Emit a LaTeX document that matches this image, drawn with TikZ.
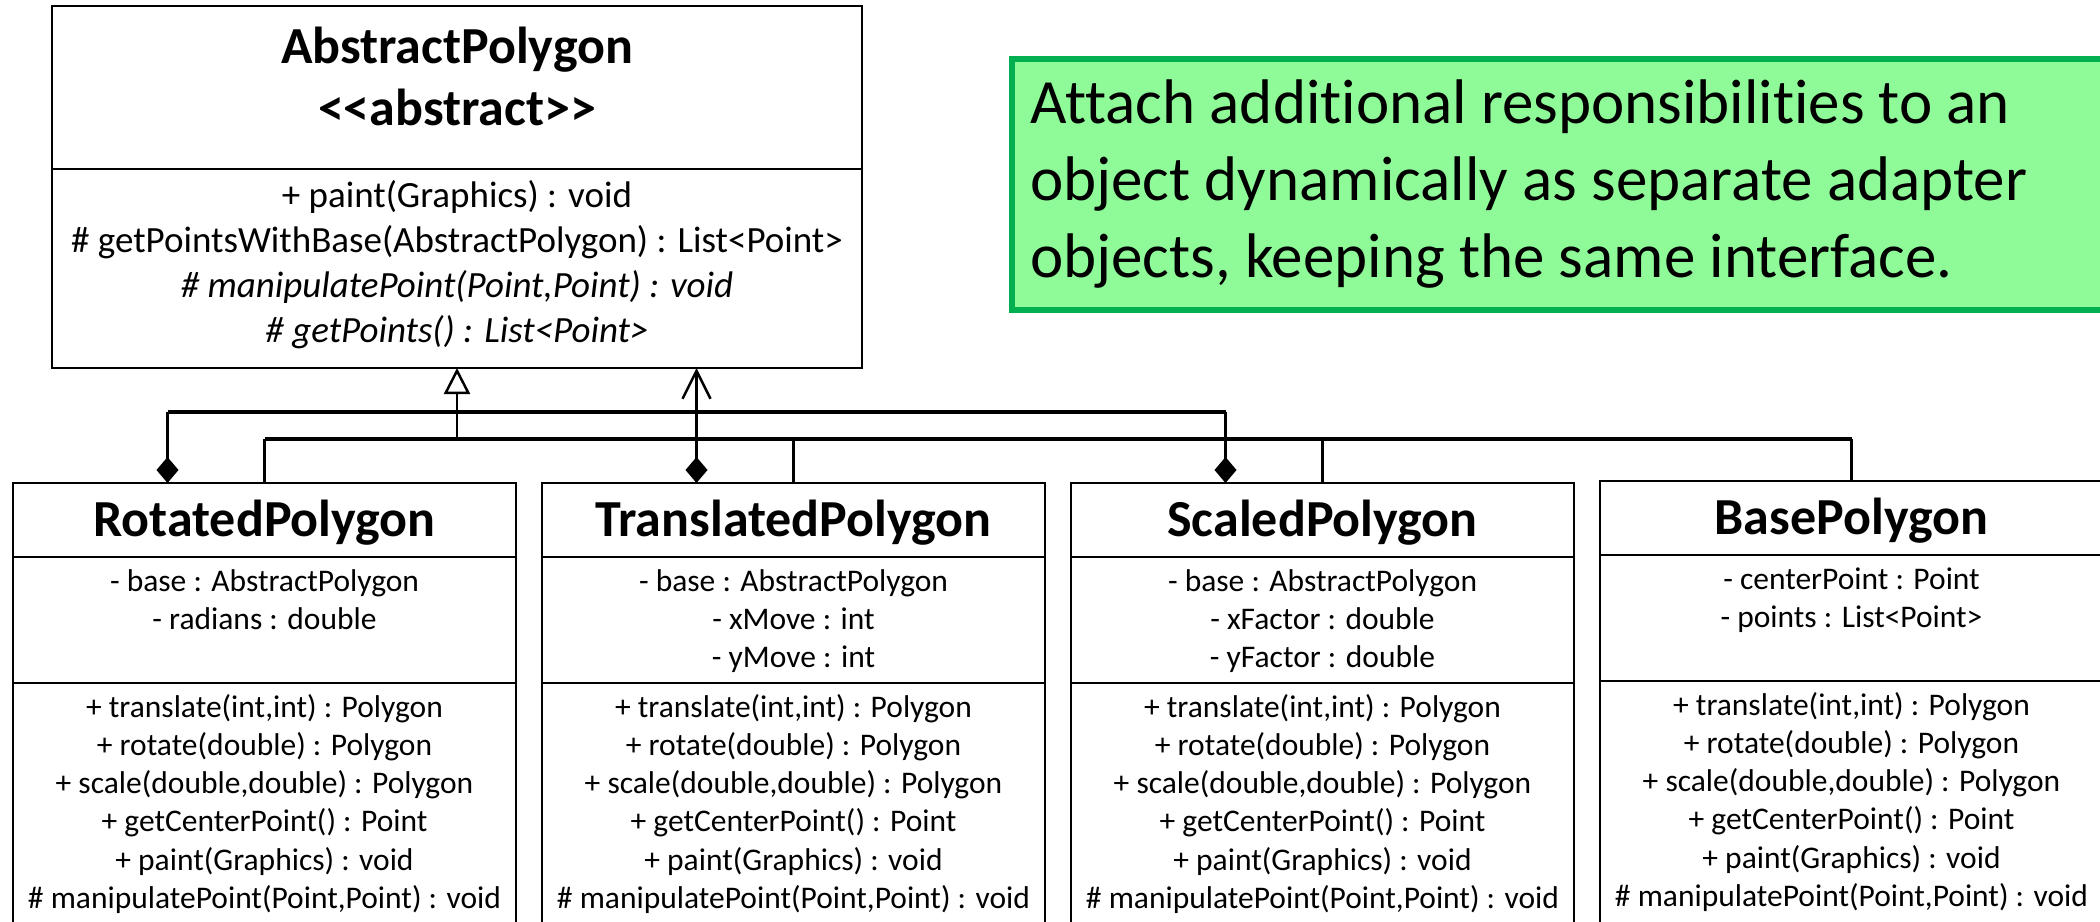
\documentclass[tikz,border=0pt]{standalone}
\usepackage{fontspec}
\setmainfont{Carlito}[Ligatures={TeXOff,NoCommon}]
\usetikzlibrary{positioning,arrows.meta,calc}

\tikzset{
  umlbox/.style={draw=black, line width=2.5pt, inner sep=0pt, outer sep=0pt},
  namebox/.style={umlbox, minimum width=503pt, minimum height=74pt,
    font=\fontsize{52}{63}\selectfont\bfseries, text height=33pt, text depth=0pt},
  attrbox/.style={umlbox, minimum width=503pt, minimum height=126pt},
  opbox/.style={umlbox, minimum width=503pt, minimum height=250pt},
  member/.style={inner sep=0pt, anchor=base, font=\fontsize{31.5}{38}\selectfont},
  absmember/.style={member, font=\fontsize{37}{45}\selectfont},
  absabstract/.style={member, font=\fontsize{37}{45}\selectfont\itshape},
  abstitle/.style={member, font=\fontsize{52}{63}\selectfont\bfseries},
  notetext/.style={inner sep=0pt, anchor=base west, font=\fontsize{63}{77}\selectfont},
  bus/.style={line width=3.5pt},
  link/.style={line width=2.5pt},
  compose/.style={link, -{Diamond[length=26pt, width=22pt]}},
}

\begin{document}
\begin{tikzpicture}[x=1pt, y=-1pt]
  \definecolor{notefill}{RGB}{143,250,152}
  \definecolor{noteline}{RGB}{0,176,80}
  \useasboundingbox (0,0) rectangle (2100,921);
  \clip (0,0) rectangle (2100,921);

  % abstract component
  \node[umlbox, anchor=north west, minimum width=810pt, minimum height=163pt] (abs) at (52,6) {};
  \node[umlbox, below=0pt of abs, minimum width=810pt, minimum height=199pt] (absM) {};
  \node[abstitle] (absT1) at ($(abs.north)+(0,57)$) {AbstractPolygon};
  \node[abstitle] (absT2) at ($(abs.north)+(0,119)$) {<<abstract>>};
  \node[absmember] (absm1) at ($(absM.north)+(0,38)$) {+ paint(Graphics) : void};
  \node[absmember] (absm2) at ($(absM.north)+(0,83)$) {\# getPointsWithBase(AbstractPolygon) : List<Point>};
  \node[absabstract] (absm3) at ($(absM.north)+(0,128)$) {\# manipulatePoint(Point,Point) : void};
  \node[absabstract] (absm4) at ($(absM.north)+(0,173)$) {\# getPoints() : List<Point>};

  % decorators and concrete component
  \node[namebox, anchor=north west] (rot) at (13,483) {RotatedPolygon};
  \node[namebox, right=26pt of rot] (tra) {TranslatedPolygon};
  \node[namebox, right=26pt of tra] (sca) {ScaledPolygon};
  \node[namebox, right=26pt of sca, yshift=2pt] (bas) {BasePolygon};
  \foreach \nm in {rot,tra,sca,bas} {
    \node[attrbox, below=0pt of \nm] (\nm A) {};
    \node[opbox, below=0pt of \nm A] (\nm M) {};
    \foreach \t [count=\i] in {{+ translate(int,int) : Polygon}, {+ rotate(double) : Polygon},
        {+ scale(double,double) : Polygon}, {+ getCenterPoint() : Point},
        {+ paint(Graphics) : void}, {\# manipulatePoint(Point,Point) : void}}
      \node[member] (\nm m\i) at ($(\nm M.north)+(0,{34+38.3*(\i-1)})$) {\t};
  }
  \foreach \t [count=\i] in {- base : AbstractPolygon, - radians : double}
    \node[member] (rota\i) at ($(rotA.north)+(0,{34+38.3*(\i-1)})$) {\t};
  \foreach \t [count=\i] in {- base : AbstractPolygon, - xMove : int, - yMove : int}
    \node[member] (traa\i) at ($(traA.north)+(0,{34+38.3*(\i-1)})$) {\t};
  \foreach \t [count=\i] in {- base : AbstractPolygon, - xFactor : double, - yFactor : double}
    \node[member] (scaa\i) at ($(scaA.north)+(0,{34+38.3*(\i-1)})$) {\t};
  \foreach \t [count=\i] in {- centerPoint : Point, - points : List<Point>}
    \node[member] (basa\i) at ($(basA.north)+(0,{34+38.3*(\i-1)})$) {\t};

  % generalisation
  \coordinate (gen) at ($(absM.south)+(0,71)$);
  \draw[link, -{Triangle[open, length=26pt, width=26pt, fill=white]}] (gen) -- (absM.south);
  \draw[bus] (rot.north |- gen) -- (bas.north |- gen);
  \foreach \nm in {rot,tra,sca,bas}
    \draw[link] (\nm.north |- gen) -- (\nm.north);

  % composition
  \coordinate (agg) at ($(absM.south)+(0,44)$);
  \foreach \nm in {rot,tra,sca}
    \coordinate (\nm D) at ($(\nm.north)+(-97,0)$);
  \draw[bus] (rotD |- agg) -- (scaD |- agg);
  \draw[compose] (rotD |- agg) -- (rotD);
  \draw[compose] (scaD |- agg) -- (scaD);
  \draw[link, {Diamond[length=26pt, width=22pt]}-{Straight Barb[length=28pt, width=28pt]}] (traD) -- (traD |- absM.south);

  % intent
  \node[draw=noteline, fill=notefill, line width=5.5pt, anchor=north west, inner sep=0pt,
    minimum width=1120pt, minimum height=251pt] (note) at (1009,56) {};
  \foreach \t [count=\i] in {Attach additional responsibilities to an,
      object dynamically as separate adapter, {objects, keeping the same interface.}}
    \node[notetext] (note\i) at ($(note.north west)+(21,{67+77*(\i-1)})$) {\t};
\end{tikzpicture}
\end{document}
